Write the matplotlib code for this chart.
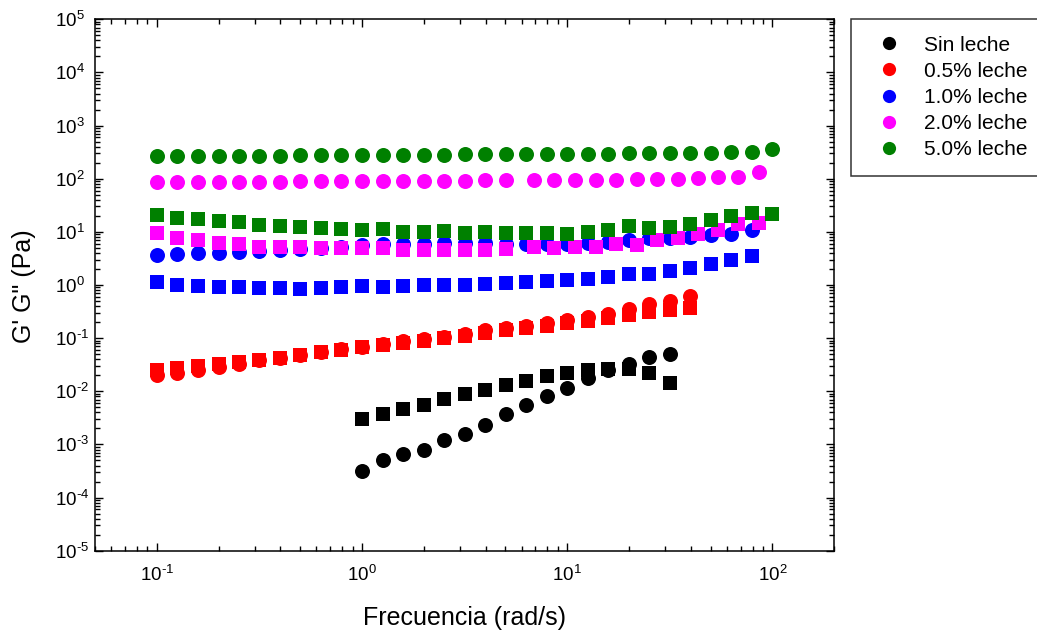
import math

import matplotlib
matplotlib.use("Agg")
import matplotlib.pyplot as plt
from matplotlib.ticker import LogLocator, NullFormatter, FuncFormatter

plt.rcParams["font.family"] = ["Liberation Sans", "DejaVu Sans"]
plt.rcParams["mathtext.fontset"] = "custom"
plt.rcParams["mathtext.rm"] = "Liberation Sans"
plt.rcParams["mathtext.it"] = "Liberation Sans:italic"
plt.rcParams["mathtext.bf"] = "Liberation Sans:bold"
plt.rcParams["axes.unicode_minus"] = False

# frequency sweep (rad/s), 10 points per decade
FREQ = [0.1, 0.126, 0.158, 0.2, 0.251, 0.316, 0.398, 0.501, 0.631, 0.794,
        1.0, 1.26, 1.58, 2.0, 2.51, 3.16, 3.98, 5.01, 6.31, 7.94,
        10.0, 12.6, 15.8, 20.0, 25.1, 31.6, 39.8, 50.1, 63.1, 79.4, 100.0]
# the 2.0% sample skips a point near 6 rad/s and continues on a shifted grid
FREQ_2PCT = [0.1, 0.126, 0.158, 0.2, 0.251, 0.316, 0.398, 0.501, 0.631, 0.794,
             1.0, 1.26, 1.58, 2.0, 2.51, 3.16, 3.98, 5.01,
             6.92, 8.65, 10.9, 13.8, 17.3, 21.8, 27.4, 34.5, 43.4, 54.3, 68.1, 86.1]

LABELS = ["Sin leche", "0.5% leche", "1.0% leche", "2.0% leche", "5.0% leche"]
COLORS = ["black", "#ff0000", "#0000ff", "#ff00ff", "#008000"]

# Sin leche: 1 .. 31.6 rad/s
x_sin = FREQ[10:26]
gp_sin = [3.1e-4, 5.0e-4, 6.6e-4, 7.8e-4, 1.19e-3, 1.6e-3, 2.3e-3, 3.8e-3,
          5.5e-3, 8.1e-3, 0.0117, 0.0181, 0.025, 0.0324, 0.0445, 0.0514]
gpp_sin = [3.0e-3, 3.8e-3, 4.6e-3, 5.5e-3, 7.1e-3, 8.8e-3, 0.0105, 0.0132,
           0.0157, 0.0195, 0.0219, 0.025, 0.0261, 0.0261, 0.0219, 0.0142]

# 0.5% leche: 0.1 .. 39.8 rad/s
x_05 = FREQ[0:27]
gp_05 = [0.020, 0.022, 0.025, 0.029, 0.033, 0.038, 0.043, 0.048, 0.055, 0.062,
         0.069, 0.077, 0.087, 0.096, 0.106, 0.118, 0.14, 0.155, 0.171, 0.19,
         0.22, 0.246, 0.286, 0.355, 0.43, 0.50, 0.62]
gpp_05 = [0.025, 0.027, 0.030, 0.032, 0.035, 0.039, 0.043, 0.048, 0.054, 0.060,
          0.067, 0.074, 0.082, 0.09, 0.10, 0.11, 0.125, 0.14, 0.155, 0.17,
          0.19, 0.21, 0.235, 0.27, 0.31, 0.34, 0.37]

# 1.0% leche: 0.1 .. 79.4 rad/s
x_10 = FREQ[0:30]
gp_10 = [3.6, 3.8, 4.0, 4.0, 4.2, 4.4, 4.6, 4.8, 5.0, 5.2,
         5.6, 5.8, 5.8, 6.0, 6.2, 6.2, 6.2, 6.0, 6.0, 6.0,
         6.0, 6.2, 6.4, 7.1, 7.5, 7.5, 8.0, 8.6, 9.3, 11.0]
gpp_10 = [1.13, 1.02, 0.94, 0.91, 0.91, 0.88, 0.88, 0.85, 0.88, 0.91,
          0.94, 0.91, 0.94, 0.98, 1.02, 1.02, 1.05, 1.08, 1.13, 1.18,
          1.22, 1.31, 1.40, 1.58, 1.63, 1.82, 2.11, 2.52, 2.90, 3.46]

# 2.0% leche
x_20 = FREQ_2PCT
gp_20 = [88, 88, 88, 88, 88, 88, 88, 89, 89, 89,
         90, 90, 91, 91, 92, 92, 93, 94,
         93, 93, 94, 94, 95, 97, 98, 99, 102, 106, 110, 132]
gpp_20 = [9.5, 7.8, 6.9, 6.2, 5.8, 5.3, 5.2, 5.2, 5.0, 5.0,
          4.9, 4.9, 4.6, 4.5, 4.5, 4.5, 4.6, 4.7,
          5.2, 5.0, 5.3, 5.3, 5.8, 5.6, 6.9, 7.5, 9.0, 11.0, 13.9, 14.5]

# 5.0% leche: 0.1 .. 100 rad/s
x_50 = FREQ
gp_50 = [266, 268, 269, 270, 271, 272, 273, 274, 276, 277,
         278, 280, 281, 283, 285, 287, 290, 290, 292, 293,
         294, 295, 297, 300, 302, 304, 306, 309, 312, 324, 370]
gpp_50 = [20.6, 18.3, 17.1, 16.1, 15.4, 13.3, 12.9, 12.4, 11.9, 11.5,
          11.0, 11.2, 10.0, 10.0, 10.4, 9.7, 9.9, 9.7, 9.7, 9.7,
          9.3, 9.95, 10.7, 12.8, 12.0, 12.3, 13.9, 16.6, 19.7, 22.8, 21.5]

ERR_FRAC = 0.05  # relative size of the replicate error bars

series = [
    (x_sin, gp_sin, gpp_sin),
    (x_05, gp_05, gpp_05),
    (x_10, gp_10, gpp_10),
    (x_20, gp_20, gpp_20),
    (x_50, gp_50, gpp_50),
]


def power_label(value, pos):
    # "10" with a hyphen-style exponent, as in the original graph
    exp = int(round(math.log10(value)))
    sign = r"\text{-}" if exp < 0 else ""
    return r"$10^{%s%d}$" % (sign, abs(exp))


fig = plt.figure(figsize=(10.37, 6.32), dpi=100)
ax = fig.add_axes([0.0916, 0.1286, 0.7129, 0.8409])

handles = []
for (x, gp, gpp), color, label in zip(series, COLORS, LABELS):
    ax.errorbar(x, gpp, yerr=[v * ERR_FRAC for v in gpp], fmt="s", ms=10,
                color=color, ecolor=color, elinewidth=1, capsize=8, capthick=1,
                markeredgewidth=0)
    ax.errorbar(x, gp, yerr=[v * ERR_FRAC for v in gp], fmt="o", ms=10.8,
                color=color, ecolor=color, elinewidth=1, capsize=8, capthick=1,
                markeredgewidth=0)
    h, = ax.plot([], [], "o", color=color, ms=9.5, markeredgewidth=0, label=label)
    handles.append(h)

ax.set_xscale("log")
ax.set_yscale("log")
ax.set_xlim(0.05, 200)
ax.set_ylim(1e-5, 1e5)
ax.yaxis.set_major_locator(LogLocator(base=10, numticks=20))
ax.yaxis.set_minor_locator(LogLocator(base=10, subs=range(2, 10), numticks=100))
ax.yaxis.set_minor_formatter(NullFormatter())
ax.xaxis.set_major_formatter(FuncFormatter(power_label))
ax.yaxis.set_major_formatter(FuncFormatter(power_label))

ax.tick_params(which="both", direction="in", top=True, right=True, width=1)
ax.tick_params(which="major", length=6, labelsize=13.5)
ax.tick_params(which="minor", length=3.5)
ax.tick_params(axis="x", which="major", pad=10)
ax.tick_params(axis="y", which="major", pad=29)
for lab in ax.get_yticklabels():
    lab.set_horizontalalignment("left")
for spine in ax.spines.values():
    spine.set_linewidth(1.1)

ax.set_xlabel("Frecuencia (rad/s)", fontsize=18, labelpad=15)
fig.text(23.5 / 1037, 1 - 286 / 632, "G' G\" (Pa)", fontsize=18,
         rotation=90, ha="center", va="center")

leg = fig.legend(handles=handles, loc="upper left",
                 bbox_to_anchor=(851 / 1037, 1 - 19 / 632),
                 bbox_transform=fig.transFigure, borderaxespad=0,
                 fontsize=15, frameon=True, fancybox=False, edgecolor="black",
                 labelspacing=0.34, borderpad=0.8, handletextpad=0.7,
                 handlelength=2.0)
leg.get_frame().set_linewidth(1.1)

fig.savefig("out.png", dpi=100)
